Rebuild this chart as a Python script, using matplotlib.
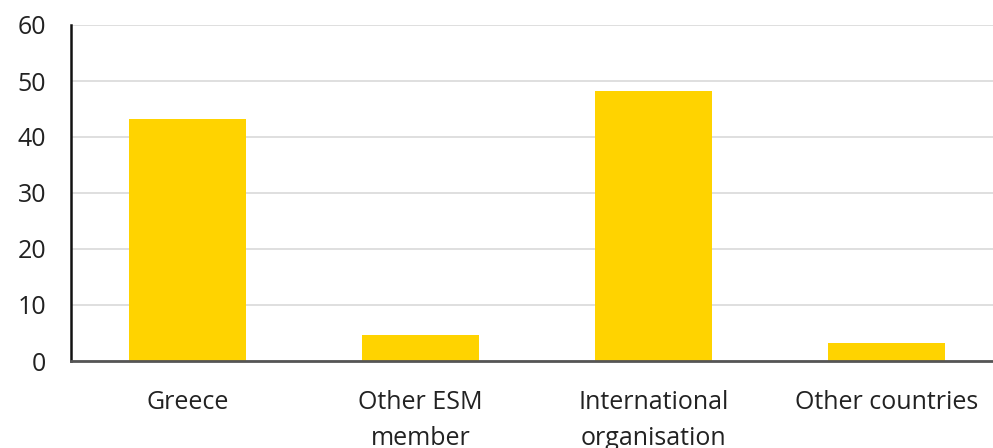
import matplotlib
matplotlib.use("Agg")
import matplotlib.pyplot as plt

categories = ["Greece", "Other ESM\nmember", "International\norganisation", "Other countries"]
values = [43.3, 4.6, 48.2, 3.3]
yticks = [0, 10, 20, 30, 40, 50, 60]

plt.rcParams['font.family'] = ['Open Sans', 'DejaVu Sans']

W, H = 993, 448
fig = plt.figure(figsize=(W / 100, H / 100), dpi=100)
left, right, top, bottom = 71, 993, 25, 361
ax = fig.add_axes([left / W, (H - bottom) / H, (right - left) / W, (bottom - top) / H])

ax.bar(range(len(categories)), values, width=0.5, color="#FFD300", zorder=2)
ax.set_xlim(-0.5, -0.5 + (right - left) / 233.0)
ax.set_ylim(0, 60)
ax.set_yticks(yticks)
ax.set_xticks(range(len(categories)))
ax.set_xticklabels(categories, fontsize=18, color="#222222", linespacing=1.55)
ax.tick_params(axis='y', labelsize=18, colors="#222222", length=0, pad=18)
ax.tick_params(axis='x', length=0, pad=21)
ax.grid(axis='y', color="#d9d9d9", linewidth=1.2, zorder=0)
for s in ["top", "right"]:
    ax.spines[s].set_visible(False)
ax.spines["left"].set_color("#111111")
ax.spines["left"].set_linewidth(1.8)
ax.spines["bottom"].set_color("#555555")
ax.spines["bottom"].set_linewidth(2.0)
for lbl in ax.get_xticklabels():
    lbl.set_verticalalignment('top')

fig.savefig("out.png", dpi=100)
